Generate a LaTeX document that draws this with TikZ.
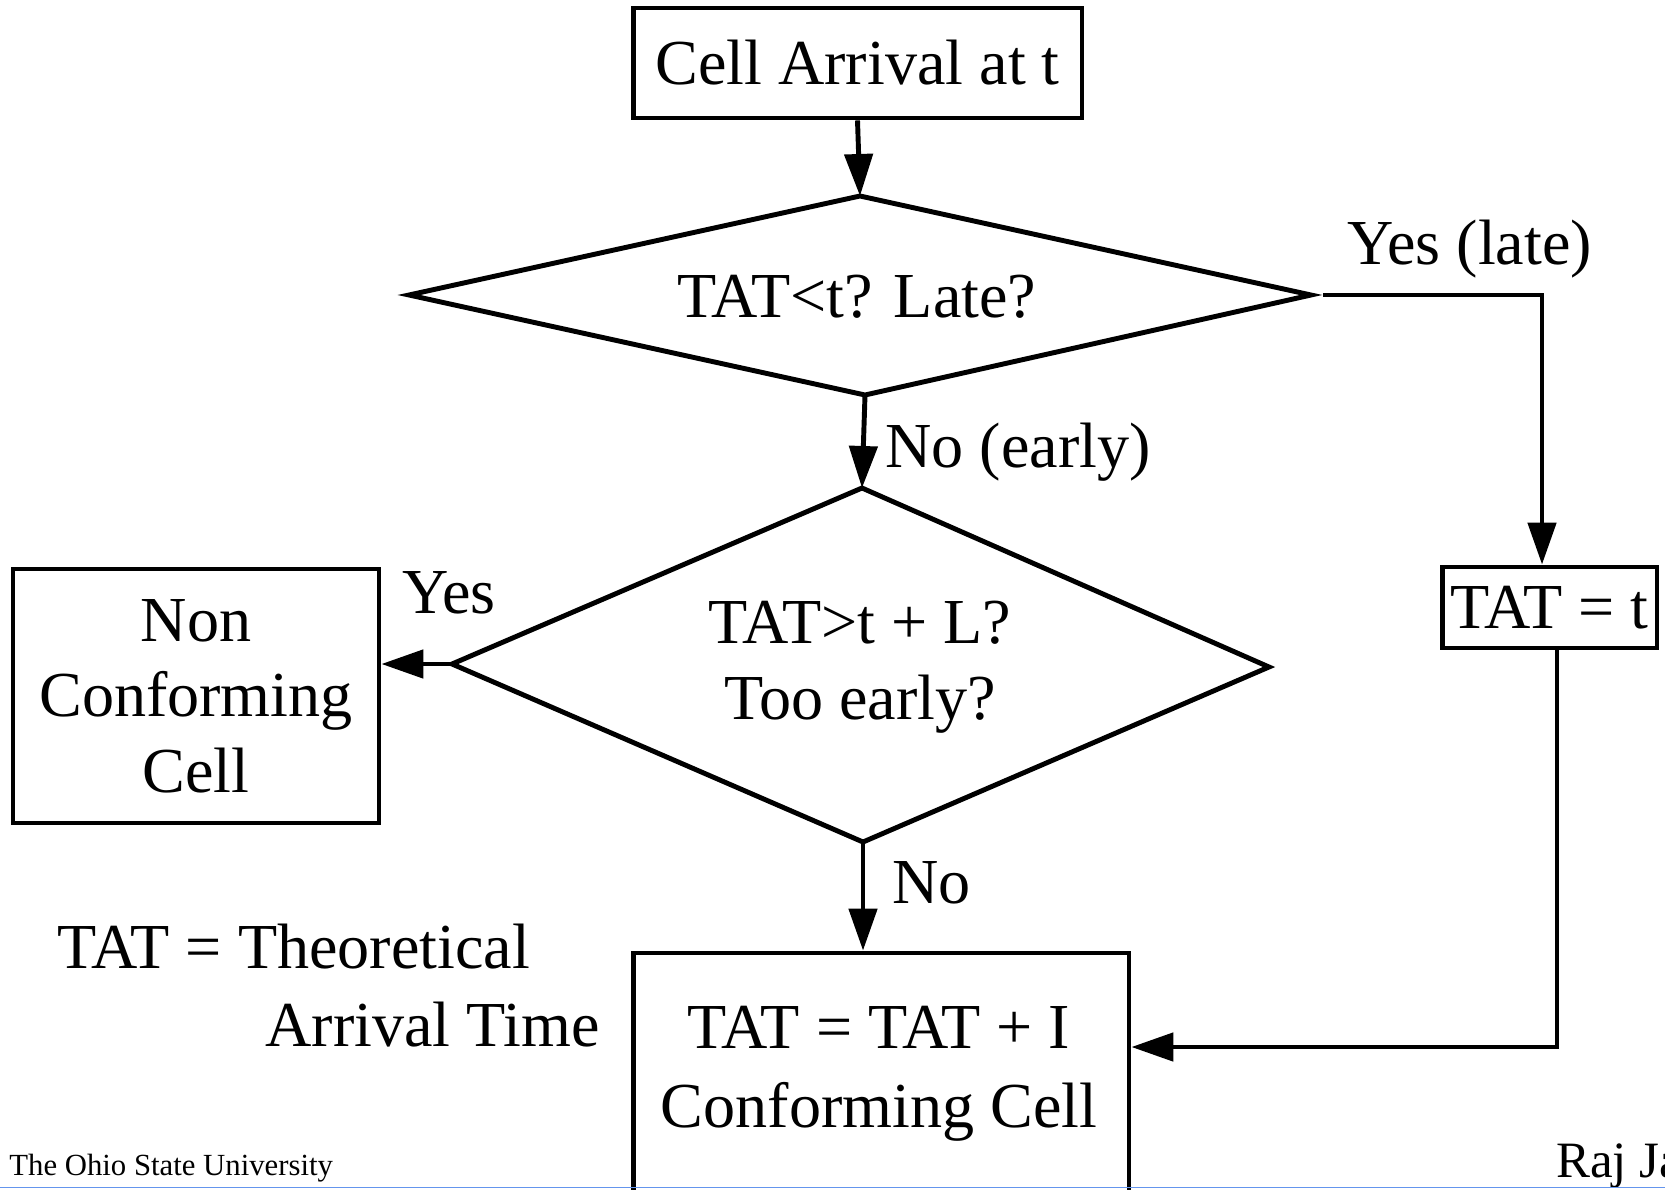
\documentclass[tikz,border=0pt]{standalone}
\usepackage{fontspec}
\setmainfont{Liberation Serif}
\usetikzlibrary{arrows.meta}
\begin{document}
\begin{tikzpicture}[x=0.02cm,y=-0.02cm,
  ln/.style={line width=2.8pt, line join=miter},
  boxnode/.style={draw, line width=2.8pt, inner sep=0pt},
  big/.style={font=\fontsize{36.5}{43}\selectfont, align=center, inner sep=0pt},
  lbl/.style={font=\fontsize{36.5}{43}\selectfont, inner sep=0pt, anchor=base west},
  small/.style={font=\fontsize{17.5}{20}\selectfont, inner sep=0pt, anchor=base west},
  arr/.style={ln, -{Triangle[length=0.84cm,width=0.56cm]}}]
\useasboundingbox (0,0) rectangle (1665,1189);
\clip (0,0) rectangle (1665,1189);
\fill[white] (0,0) rectangle (1665,1189);

% boxes
\node[boxnode, big, minimum width=8.98cm, minimum height=2.2cm] (top) at (857.5,63) {Cell Arrival at t};
\node[boxnode, big, minimum width=4.3cm, minimum height=1.62cm] (tatt) at (1549.5,607.5) {TAT = t};
\node[boxnode, big, minimum width=7.32cm, minimum height=5.08cm] (nc) at (196,696) {Non\\Conforming\\Cell};
\node[boxnode, minimum width=9.92cm, minimum height=5.6cm] (bot) at (881,1093) {};
\node[big, font=\fontsize{36.5}{45}\selectfont] (bottxt) at (879,1074) {TAT = TAT + I\\Conforming Cell};

% diamond 1
\coordinate (d1t) at (860,196);
\coordinate (d1r) at (1311,295);
\coordinate (d1b) at (865,395);
\coordinate (d1l) at (409,295);
\draw[ln] (d1t) -- (d1r) -- (d1b) -- (d1l) -- cycle;
\node[big] (d1txt) at (857,297) {TAT<t? Late?};

% diamond 2
\coordinate (d2t) at (862,488);
\coordinate (d2r) at (1269,667);
\coordinate (d2b) at (863,842);
\coordinate (d2l) at (452,664);
\draw[ln] (d2t) -- (d2r) -- (d2b) -- (d2l) -- cycle;
\node[big] (d2txt) at (860,667) {TAT>t + L?\\Too early?};

% connectors
\draw[arr] (top.south) -- (d1t);
\draw[arr] (d1b) -- (d2t);
\coordinate (ystart) at (1323,295);
\coordinate (ycorner) at (1542,295);
\draw[arr] (ystart) -- (ycorner) -- (ycorner |- tatt.north);
\draw[arr] (d2l) -- (d2l -| nc.east);
\draw[arr] (d2b) -- (d2b |- bot.north);
\coordinate (rdown) at (1557,648);
\coordinate (rturn) at (1557,1047);
\draw[arr] (rdown) -- (rturn) -- (rturn -| bot.east);

% labels
\node[lbl] (lyeslate) at (1347,265) {Yes (late)};
\node[lbl] (lnoearly) at (885,467) {No (early)};
\node[lbl] (lyes) at (402,613) {Yes};
\node[lbl] (lno) at (892,903) {No};
\node[lbl] (def1) at (57,968) {TAT = Theoretical};
\node[lbl] (def2) at (265,1046) {Arrival Time};

% footer
\node[small] (osu) at (9,1175) {The Ohio State University};
\node[lbl, font=\fontsize{29}{34}\selectfont] (raj) at (1556,1177) {Raj Jain};
\draw[color={rgb,255:red,100;green,149;blue,237}, line width=0.03cm] (0,1187.5) -- (1665,1187.5);
\end{tikzpicture}
\end{document}
